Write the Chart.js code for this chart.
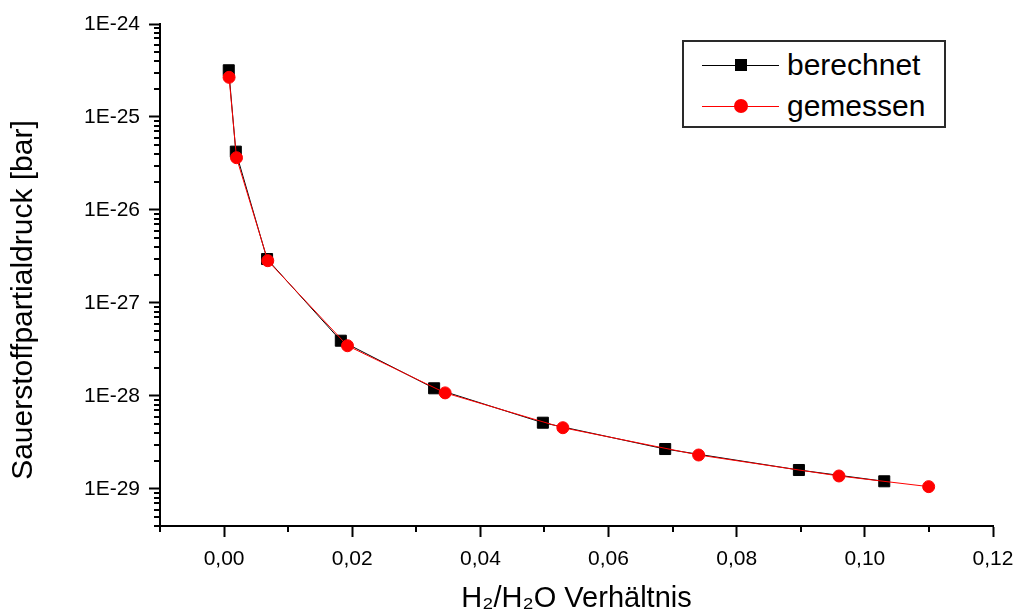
<!DOCTYPE html>
<html>
<head>
<meta charset="utf-8">
<script src="https://cdn.jsdelivr.net/npm/chart.js@4/dist/chart.umd.min.js"></script>
<style>
  html, body { margin: 0; padding: 0; background: #fff; }
  #wrap { position: relative; width: 1015px; height: 616px; font-family: "Liberation Sans", Arial, sans-serif; }
  #c { position: absolute; left: 0; top: 0; }
  .leg { position: absolute; left: 682px; top: 40px; width: 264px; height: 88px; box-sizing: border-box; border: 2px solid #2a2a2a; background: #fff; }
  .ln { position: absolute; height: 1px; }
  .txt { position: absolute; font-size: 30px; line-height: 34px; color: #000; white-space: nowrap; }
</style>
</head>
<body>
<div id="wrap">
  <canvas id="c" width="1015" height="616"></canvas>
  <div class="leg"></div>
  <div class="ln" style="left:702px;top:65px;width:77px;background:#000"></div>
  <div style="position:absolute;left:735px;top:59px;width:12px;height:12px;background:#000"></div>
  <div class="txt" style="left:787px;top:48px">berechnet</div>
  <div class="ln" style="left:702px;top:106px;width:77px;background:#f00"></div>
  <div style="position:absolute;left:734px;top:99px;width:14px;height:14px;border-radius:50%;background:#f00"></div>
  <div class="txt" style="left:787px;top:89px">gemessen</div>
</div>
<script>
// ---- data ----
const berechnetX = [0.00073, 0.00183, 0.00671, 0.01822, 0.03278, 0.04975, 0.06884, 0.08971, 0.10303];
const berechnetY = [3.18e-25, 4.24e-26, 2.97e-27, 3.93e-28, 1.21e-28, 5.16e-29, 2.69e-29, 1.60e-29, 1.21e-29];
const gemessenX  = [0.00078, 0.00194, 0.00682, 0.01926, 0.03450, 0.05287, 0.07406, 0.09596, 0.10996];
const gemessenY  = [2.67e-25, 3.65e-26, 2.85e-27, 3.47e-28, 1.08e-28, 4.56e-29, 2.32e-29, 1.38e-29, 1.06e-29];

const xTickValues = [0, 0.02, 0.04, 0.06, 0.08, 0.10, 0.12];
const xTickLabels = ['0,00', '0,02', '0,04', '0,06', '0,08', '0,10', '0,12'];
const xMinorTicks = [-0.01, 0.01, 0.03, 0.05, 0.07, 0.09, 0.11];
const yTickValues = [1e-24, 1e-25, 1e-26, 1e-27, 1e-28, 1e-29];
const yTickLabels = ['1E-24', '1E-25', '1E-26', '1E-27', '1E-28', '1E-29'];

const FONT = '"Liberation Sans", Arial, sans-serif';

const minorTicks = {
  id: 'minorTicks',
  afterDraw(chart) {
    const ctx = chart.ctx, xs = chart.scales.x, ys = chart.scales.y;
    const area = chart.chartArea;
    ctx.save();
    ctx.strokeStyle = '#000';
    ctx.lineWidth = 2;
    ctx.beginPath();
    xMinorTicks.forEach(v => {
      const px = Math.round(xs.getPixelForValue(v));
      ctx.moveTo(px, area.bottom);
      ctx.lineTo(px, area.bottom + 6);
    });
    for (let e = -30; e <= -25; e++) {
      for (let k = 2; k <= 9; k++) {
        const v = k * Math.pow(10, e);
        if (v < ys.min || v > ys.max) continue;
        const py = Math.round(ys.getPixelForValue(v));
        ctx.moveTo(area.left, py);
        ctx.lineTo(area.left - 6, py);
      }
    }
    ctx.stroke();
    ctx.restore();
  }
};

new Chart(document.getElementById('c'), {
  type: 'line',
  data: {
    datasets: [
      {
        label: 'berechnet',
        data: berechnetX.map((x, i) => ({ x: x, y: berechnetY[i] })),
        borderColor: '#000',
        backgroundColor: '#000',
        borderWidth: 1,
        pointStyle: 'rect',
        pointRadius: 7.8,
        pointBorderWidth: 1,
        pointBorderColor: '#000',
        pointBackgroundColor: '#000',
        tension: 0,
        order: 1,
        clip: false
      },
      {
        label: 'gemessen',
        data: gemessenX.map((x, i) => ({ x: x, y: gemessenY[i] })),
        borderColor: '#ff0000',
        backgroundColor: '#ff0000',
        borderWidth: 1,
        pointStyle: 'circle',
        pointRadius: 6,
        pointBorderWidth: 1,
        pointBorderColor: '#ff0000',
        pointBackgroundColor: '#ff0000',
        tension: 0,
        order: 0,
        clip: false
      }
    ]
  },
  options: {
    responsive: false,
    animation: false,
    devicePixelRatio: 1,
    layout: { padding: { left: 0, right: 22, top: 24, bottom: 0 } },
    plugins: { legend: { display: false }, tooltip: { enabled: false } },
    scales: {
      x: {
        type: 'linear',
        min: -0.01,
        max: 0.12,
        afterBuildTicks(scale) { scale.ticks = xTickValues.map(v => ({ value: v })); },
        afterFit(scale) { scale.height = 90; scale.paddingLeft = 0; scale.paddingRight = 0; },
        ticks: {
          callback(value) { const i = xTickValues.findIndex(t => Math.abs(t - value) < 1e-9); return i >= 0 ? xTickLabels[i] : ''; },
          font: { family: FONT, size: 21 },
          color: '#000',
          padding: 10,
          maxRotation: 0,
          autoSkip: false
        },
        grid: { drawOnChartArea: false, drawTicks: true, tickLength: 11, tickWidth: 2, tickColor: '#000' },
        border: { display: true, color: '#000', width: 2 },
        title: {
          display: true,
          text: 'H₂/H₂O Verhältnis',
          font: { family: FONT, size: 29 },
          color: '#000',
          padding: { top: 0, bottom: 0 }
        }
      },
      y: {
        type: 'logarithmic',
        min: 4e-30,
        max: 1e-24,
        afterBuildTicks(scale) { scale.ticks = yTickValues.map(v => ({ value: v })); },
        afterFit(scale) { scale.width = 160; scale.paddingTop = 0; scale.paddingBottom = 0; },
        ticks: {
          callback(value) { const i = yTickValues.findIndex(t => Math.abs(Math.log10(t) - Math.log10(value)) < 1e-6); return i >= 0 ? yTickLabels[i] : ''; },
          font: { family: FONT, size: 21 },
          color: '#000',
          padding: 9,
          autoSkip: false
        },
        grid: { drawOnChartArea: false, drawTicks: true, tickLength: 11, tickWidth: 2, tickColor: '#000' },
        border: { display: true, color: '#000', width: 2 },
        title: {
          display: true,
          text: 'Sauerstoffpartialdruck [bar]\u00a0\u00a0\u00a0\u00a0\u00a0\u00a0',
          font: { family: FONT, size: 30 },
          color: '#000',
          padding: { top: 6, bottom: 0 }
        }
      }
    }
  },
  plugins: [minorTicks]
});
</script>
</body>
</html>
